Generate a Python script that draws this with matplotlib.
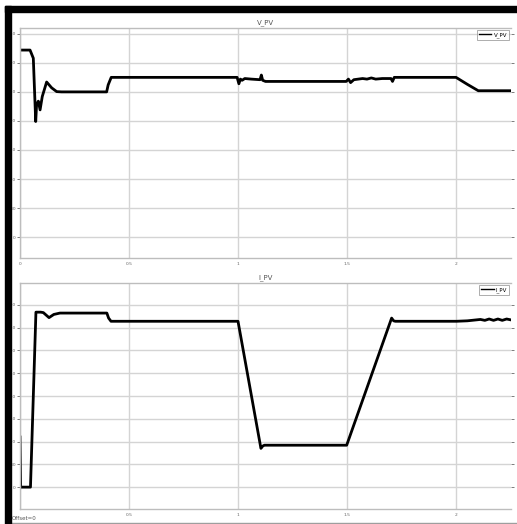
import matplotlib
matplotlib.use("Agg")
import matplotlib.pyplot as plt
from matplotlib.patches import Rectangle

# PV voltage trace (time in s, volts)
v_time = [0.0, 0.046, 0.061, 0.072, 0.076, 0.084, 0.092, 0.102, 0.122, 0.145,
          0.168, 0.19, 0.397, 0.404, 0.418, 0.70, 0.995, 1.003, 1.010, 1.018,
          1.03, 1.06, 1.10, 1.106, 1.112, 1.125, 1.30, 1.495, 1.505, 1.515,
          1.53, 1.55, 1.57, 1.59, 1.61, 1.63, 1.66, 1.70, 1.707, 1.715, 1.80,
          1.998, 2.05, 2.10, 2.25]
v_pv = [322, 322, 308, 199, 228, 234, 219, 242, 267, 257,
        250.5, 250, 250, 262, 275, 275, 275, 264, 272, 270,
        273, 272, 271, 279, 270, 268, 268, 268, 272, 266,
        271, 272, 273, 272, 274, 272, 273, 273, 268, 275, 275,
        275, 263, 252, 252]

# PV current trace (time in s, amperes)
i_time = [0.0, 0.003, 0.005, 0.048, 0.073, 0.095, 0.107, 0.133, 0.155, 0.183,
          0.398, 0.406, 0.417, 0.70, 0.999, 1.104, 1.112, 1.12, 1.30, 1.497,
          1.703, 1.712, 1.72, 1.90, 2.0, 2.05, 2.11, 2.13, 2.15, 2.17, 2.19,
          2.21, 2.23, 2.25]
i_pv = [110, 0, 0, 0, 384, 384, 383, 372, 379, 382,
        382, 371, 364, 364, 364, 85, 90, 92, 92, 92,
        371, 365, 364, 364, 364, 365, 368, 366, 369, 366, 369,
        366, 369, 367]

x_ticks = [0, 0.5, 1, 1.5, 2]
x_labels_top = ["0", "0.5", "1", "1.5", "2"]
x_labels_bottom = ["", "0.5", "1", "1.5", "2"]
v_ticks = [0, 50, 100, 150, 200, 250, 300, 350]
i_ticks = [0, 50, 100, 150, 200, 250, 300, 350, 400]

W, H = 517, 524
fig = plt.figure(figsize=(W / 100, H / 100), dpi=100)
fig.patch.set_facecolor("white")

def px_box(left, top, right, bottom):
    return [left / W, 1 - bottom / H, (right - left) / W, (bottom - top) / H]

grid_col = "#d4d4d4"
spine_col = "#bdbdbd"
narrow = ["Liberation Sans Narrow", "DejaVu Sans"]

def style_axes(ax, yticks, ylim, xlabels, title):
    ax.set_xlim(0, 2.25)
    ax.set_ylim(*ylim)
    ax.set_xticks(x_ticks)
    ax.set_xticklabels(xlabels, family=narrow)
    ax.set_yticks(yticks)
    ax.set_yticklabels([str(t) for t in yticks], family=narrow)
    ax.grid(True, color=grid_col, linewidth=1.0)
    ax.set_axisbelow(True)
    for s in ax.spines.values():
        s.set_color(spine_col)
        s.set_linewidth(1.0)
    ax.spines["right"].set_visible(False)
    ax.tick_params(axis="both", labelsize=3.2, colors="#666666", length=2.5,
                   width=0.6, pad=0.5)
    ax.tick_params(axis="y", right=True)
    ax.tick_params(axis="x", length=0, pad=3)
    ax.set_title(title, fontsize=5, color="#555555", pad=3, family=narrow)
    leg = ax.legend(loc="upper right", frameon=True, fancybox=False,
                    borderpad=0.4, handlelength=2.2, handletextpad=0.4,
                    borderaxespad=0.3, prop={"size": 4, "family": narrow})
    leg.get_frame().set_edgecolor("#888888")
    leg.get_frame().set_linewidth(0.6)
    for line in leg.get_lines():
        line.set_linewidth(1.0)

ax1 = fig.add_axes(px_box(20, 28, 511, 258))
ax1.plot(v_time, v_pv, color="black", linewidth=2.0, label="V_PV")
style_axes(ax1, v_ticks, (-36, 360), x_labels_top, "V_PV")

ax2 = fig.add_axes(px_box(20, 283, 511, 509))
ax2.plot(i_time, i_pv, color="black", linewidth=2.0, label="I_PV")
style_axes(ax2, i_ticks, (-48, 448), x_labels_bottom, "I_PV")

fig.text(12 / W, 1 - 518 / H, "Offset=0", fontsize=4, color="#555555",
         va="center", ha="left", family=narrow)

# thin rule along the lower edge
fig.add_artist(plt.Line2D([11 / W, 1], [1 - 522.5 / H, 1 - 522.5 / H],
                          color="#9e9e9e", linewidth=1.0,
                          transform=fig.transFigure))

# heavy black frame on the top and left edges
fig.add_artist(Rectangle((5 / W, 1 - 12 / H), 1 - 5 / W, 6 / H,
                         transform=fig.transFigure, color="black", zorder=10))
fig.add_artist(Rectangle((5 / W, 0), 6 / W, 1 - 6 / H,
                         transform=fig.transFigure, color="black", zorder=10))

fig.savefig("out.png", dpi=100)
